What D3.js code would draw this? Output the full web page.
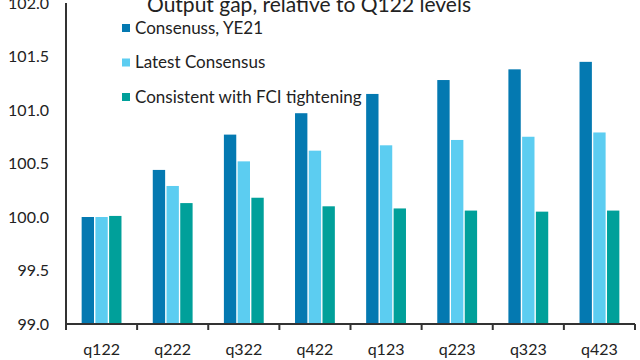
<!DOCTYPE html>
<html>
<head>
<meta charset="utf-8">
<script src="https://cdn.jsdelivr.net/npm/d3@7"></script>
<style>
  body { margin: 0; background: #fff; }
  svg { display: block; font-family: Lato, "Noto Sans", sans-serif; }
</style>
</head>
<body>
<script>
const quarters = ['q122', 'q222', 'q322', 'q422', 'q123', 'q223', 'q323', 'q423'];
const consensusYE21 = [100.0, 100.44, 100.77, 100.97, 101.15, 101.28, 101.38, 101.45];
const latestConsensus = [100.0, 100.29, 100.52, 100.62, 100.67, 100.72, 100.75, 100.79];
const fciTightening = [100.01, 100.13, 100.18, 100.1, 100.08, 100.06, 100.05, 100.06];
const seriesNames = ['Consenuss, YE21', 'Latest Consensus', 'Consistent with FCI tightening'];
const yTicks = [99.0, 99.5, 100.0, 100.5, 101.0, 101.5, 102.0];

const colors = ['#0479b1', '#5ccdf1', '#00a09a'];
const w = 640;
const h = 360;
const margin = { left: 66, right: 5, top: 3, bottom: 36 };

const svg = d3.select('body').append('svg').attr('width', w).attr('height', h);

const xScale = d3
  .scaleBand()
  .domain(quarters)
  .range([margin.left, w - margin.right])
  .paddingInner(0.44)
  .paddingOuter(0.22);

const yScale = d3
  .scaleLinear()
  .domain([99, 102])
  .range([h - margin.bottom, margin.top]);

// sub-band for the three series inside each quarter
const inner = d3.scaleBand().domain([0, 1, 2]).range([0, xScale.bandwidth()]).paddingInner(0.1);

const series = [consensusYE21, latestConsensus, fciTightening];
const rows = quarters.map((q, i) => ({ q, vals: series.map((s) => s[i]) }));

const groups = svg
  .selectAll('g.grp')
  .data(rows)
  .enter()
  .append('g')
  .attr('class', 'grp')
  .attr('transform', (d) => `translate(${xScale(d.q)},0)`);

groups
  .selectAll('rect')
  .data((d) => d.vals)
  .enter()
  .append('rect')
  .attr('x', (d, i) => inner(i))
  .attr('width', inner.bandwidth())
  .attr('y', (d) => yScale(d))
  .attr('height', (d) => yScale(99) - yScale(d))
  .attr('fill', (d, i) => colors[i]);

// x axis
const xAxisScale = d3.scalePoint().domain(d3.range(quarters.length + 1)).range([margin.left, w - margin.right]);
const xAxis = svg.append('g');
xAxis
  .append('line')
  .attr('x1', margin.left)
  .attr('x2', w - margin.right)
  .attr('y1', yScale(99))
  .attr('y2', yScale(99))
  .attr('stroke', '#333')
  .attr('stroke-width', 2);
xAxis
  .selectAll('line.tick')
  .data(xAxisScale.domain())
  .enter()
  .append('line')
  .attr('class', 'tick')
  .attr('x1', (d) => xAxisScale(d))
  .attr('x2', (d) => xAxisScale(d))
  .attr('y1', yScale(99))
  .attr('y2', yScale(99) + 6)
  .attr('stroke', '#333')
  .attr('stroke-width', 2);
xAxis
  .selectAll('text')
  .data(quarters)
  .enter()
  .append('text')
  .attr('x', (d) => xScale(d) + xScale.bandwidth() / 2)
  .attr('y', 355)
  .attr('text-anchor', 'middle')
  .attr('font-size', 16)
  .attr('fill', '#222')
  .text((d) => d);

// y axis
svg
  .append('line')
  .attr('x1', margin.left)
  .attr('x2', margin.left)
  .attr('y1', yScale(102))
  .attr('y2', yScale(99) + 1)
  .attr('stroke', '#333')
  .attr('stroke-width', 2);
svg
  .selectAll('text.ytick')
  .data(yTicks)
  .enter()
  .append('text')
  .attr('class', 'ytick')
  .attr('x', 49)
  .attr('y', (d) => yScale(d))
  .attr('dy', '0.35em')
  .attr('text-anchor', 'end')
  .attr('font-size', 16)
  .attr('fill', '#222')
  .text((d) => d.toFixed(1));

// title
svg
  .append('text')
  .attr('x', 309)
  .attr('y', 12)
  .attr('text-anchor', 'middle')
  .attr('font-size', 21)
  .attr('fill', '#222')
  .text('Output gap, relative to Q122 levels');

// legend
const legend = svg
  .selectAll('g.leg')
  .data(seriesNames)
  .enter()
  .append('g')
  .attr('class', 'leg')
  .attr('transform', (d, i) => `translate(122,${28 + i * 34.5})`);
legend
  .append('rect')
  .attr('x', 0)
  .attr('y', -4)
  .attr('width', 8)
  .attr('height', 8)
  .attr('fill', (d, i) => colors[i]);
legend
  .append('text')
  .attr('x', 13)
  .attr('y', 0)
  .attr('dy', '0.35em')
  .attr('font-size', 17)
  .attr('fill', '#222')
  .text((d) => d);
</script>
</body>
</html>
